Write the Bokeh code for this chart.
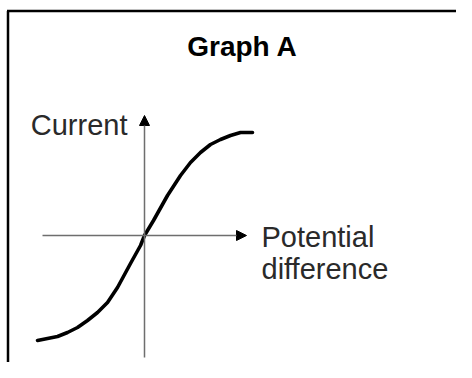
from bokeh.plotting import figure
from bokeh.models import Range1d, Arrow, NormalHead
from bokeh.core.properties import value
from bokeh.embed import file_html
from bokeh.resources import INLINE

# Curve (origin at axes crossing; units ~ pixels)
curve_x = [-107, -97, -87, -77, -67, -57, -47, -37, -27, -14, -4, 0,
           9, 23, 36, 46, 56, 66, 76, 86, 96, 108]
curve_y = [-105, -103, -101, -97, -92, -85, -77, -67, -52, -28, -10, 0,
           15, 40, 60, 73, 83, 91, 96, 100, 103, 103]

title_text = "Graph A"
y_label = "Current"
x_label_lines = ["Potential", "difference"]

# axis extents
x_axis_start, x_axis_end = -102, 102
y_axis_start, y_axis_end = -122, 120

W, H = 456, 362
x0 = -144
y_top = 235
p = figure(width=W, height=H, output_backend="svg", toolbar_location=None,
           x_range=Range1d(x0, x0 + W), y_range=Range1d(y_top - H, y_top),
           min_border=0, outline_line_color=None)
p.axis.visible = False
p.grid.visible = False
p.background_fill_color = "white"
p.border_fill_color = "white"

# frame lines (top and left)
frame_top = y_top - 10.5
frame_left = x0 + 7.5
p.line([frame_left - 1, x0 + W], [frame_top, frame_top], line_color="black", line_width=2.5)
p.line([frame_left, frame_left], [y_top - H, frame_top], line_color="black", line_width=2.5)

# axes with arrows
p.add_layout(Arrow(x_start=x_axis_start, y_start=0, x_end=x_axis_end, y_end=0,
                   line_color="#6e6e6e", line_width=1.5,
                   end=NormalHead(size=10, fill_color="black", line_color="black", line_width=1)))
p.add_layout(Arrow(x_start=0, y_start=y_axis_start, x_end=0, y_end=y_axis_end,
                   line_color="#6e6e6e", line_width=1.5,
                   end=NormalHead(size=10, fill_color="black", line_color="black", line_width=1)))

# curve
p.line(curve_x, curve_y, line_color="black", line_width=3.6, line_join="round", line_cap="round")

# texts
p.text(x=[98], y=[189], text=[title_text], text_font=value("Liberation Sans"),
       text_font_style="bold", text_font_size="28px", text_align="center",
       text_baseline="alphabetic", text_color="black")
p.text(x=[-17], y=[111], text=[y_label], text_font=value("Liberation Sans"),
       text_font_size="29px", text_align="right", text_baseline="alphabetic",
       text_color="#2a2a2a")
p.text(x=[117, 117], y=[-1, -33], text=x_label_lines, text_font=value("Liberation Sans"),
       text_font_size="29px", text_align="left", text_baseline="alphabetic",
       text_color="#2a2a2a")

open("out.html", "w").write(file_html(p, INLINE))
